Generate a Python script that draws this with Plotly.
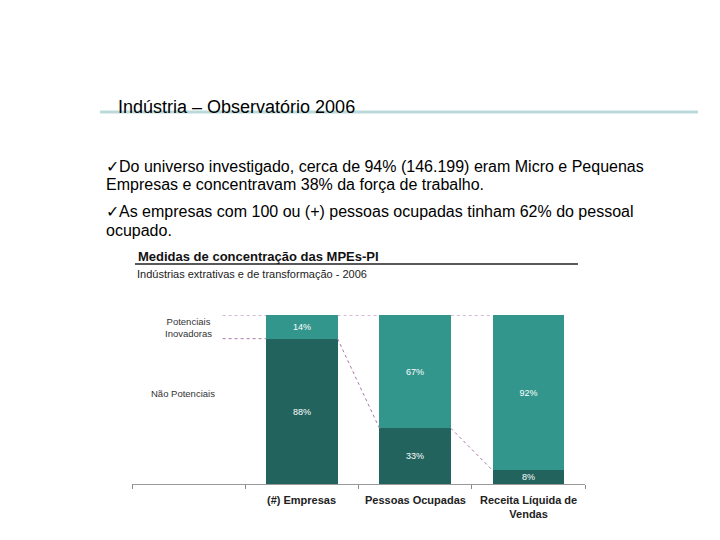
import plotly.graph_objects as go

categories = ["(#) Empresas", "Pessoas Ocupadas", "Receita Líquida de<br>Vendas"]
nao_potenciais = [86, 33, 8]
potenciais = [14, 67, 92]
nao_labels = ["88%", "33%", "8%"]
pot_labels = ["14%", "67%", "92%"]
group_names = ["Potenciais<br>Inovadoras", "Não Potenciais"]
bullet_lines = ["✓Do universo investigado, cerca de 94% (146.199) eram Micro e Pequenas",
                "Empresas e concentravam 38% da força de trabalho.",
                "✓As empresas com 100 ou (+) pessoas ocupadas tinham 62% do pessoal",
                "ocupado."]

# page body has an 8px margin: figure is 704x524 placed at (8,8)
OFF = 8
W, H = 720 - 2 * OFF, 540 - 2 * OFF


def px(x):
    return (x - OFF) / W


def py(y):
    return 1 - (y - OFF) / H


xpos = [1, 2, 3]
bw = 0.63
dark = "#22635E"
light = "#33968D"
pink = "#A978A6"

fig = go.Figure()
fig.add_trace(go.Bar(x=xpos, y=nao_potenciais, width=bw, marker=dict(color=dark, line=dict(width=0)),
                     text=nao_labels, textposition="inside", insidetextanchor="middle",
                     textfont=dict(color="white", size=9, family="Liberation Sans"), hoverinfo="skip"))
fig.add_trace(go.Bar(x=xpos, y=potenciais, width=bw, marker=dict(color=light, line=dict(width=0)),
                     text=pot_labels, textposition="inside", insidetextanchor="middle",
                     textfont=dict(color="white", size=9, family="Liberation Sans"), hoverinfo="skip"))

# connector lines
half = bw / 2
tot = [a + b for a, b in zip(nao_potenciais, potenciais)]
segs = [([0.3, xpos[0] - half], [tot[0], tot[0]]),
        ([0.3, xpos[0] - half], [nao_potenciais[0], nao_potenciais[0]])]
for i in range(len(xpos) - 1):
    segs.append(([xpos[i] + half, xpos[i + 1] - half], [tot[i], tot[i + 1]]))
    segs.append(([xpos[i] + half, xpos[i + 1] - half], [nao_potenciais[i], nao_potenciais[i + 1]]))
for sx, sy in segs:
    fig.add_trace(go.Scatter(x=sx, y=sy, mode="lines", line=dict(color=pink, width=1, dash="dot"),
                             hoverinfo="skip"))

fig.update_layout(
    width=W, height=H, margin=dict(l=0, r=0, t=0, b=0),
    paper_bgcolor="white", plot_bgcolor="white", showlegend=False, barmode="stack",
    bargap=0, uniformtext=dict(minsize=9, mode="show"),
    xaxis=dict(domain=[px(132), px(585)], range=[-0.5, 3.5], tickvals=[-0.5, 0.5, 1.5, 2.5, 3.5],
               ticktext=["", "", "", "", ""], ticks="outside", ticklen=4, tickcolor="#888888",
               showline=True, linecolor="#999999", linewidth=1, showgrid=False, zeroline=False,
               fixedrange=True),
    yaxis=dict(domain=[py(484), py(315)], range=[0, 100], visible=False, fixedrange=True),
    font=dict(family="Liberation Sans"),
)

ann = []
for xp, c in zip(xpos, categories):
    ann.append(dict(x=xp, y=py(492), xref="x", yref="paper", text="<b>" + c + "</b>", showarrow=False,
                    xanchor="center", yanchor="top",
                    font=dict(size=11, color="#222222", family="Liberation Sans")))
ann.append(dict(x=px(188), y=py(327), xref="paper", yref="paper", text=group_names[0],
                xanchor="center", showarrow=False, font=dict(size=9.5, color="#333333")))
ann.append(dict(x=px(183), y=py(401), xref="paper", yref="paper", text=group_names[1],
                xanchor="center", showarrow=False, font=dict(size=9.5, color="#333333")))
ann.append(dict(x=px(116), y=py(95), xref="paper", yref="paper", xanchor="left",
                text="Indústria – Observatório 2006", showarrow=False, font=dict(size=18, color="black")))
for txt, yy in zip(bullet_lines, [156, 174, 211, 230]):
    ann.append(dict(x=px(104), y=py(yy), xref="paper", yref="paper", xanchor="left",
                    text=txt, showarrow=False, font=dict(size=16, color="black")))
ann.append(dict(x=px(136), y=py(256), xref="paper", yref="paper", xanchor="left",
                text="<b>Medidas de concentração das MPEs-PI</b>", showarrow=False,
                font=dict(size=13, color="#111111")))
ann.append(dict(x=px(135), y=py(274), xref="paper", yref="paper", xanchor="left",
                text="Indústrias extrativas e de transformação - 2006", showarrow=False,
                font=dict(size=11, color="#222222")))
fig.update_layout(annotations=ann)

fig.add_shape(type="line", xref="paper", yref="paper", x0=px(100), x1=px(698),
              y0=py(112), y1=py(112), line=dict(color="#BCD9DC", width=3))
fig.add_shape(type="line", xref="paper", yref="paper", x0=px(135), x1=px(578),
              y0=py(264), y1=py(264), line=dict(color="#222222", width=1.5))

fig.write_html("out.html")
